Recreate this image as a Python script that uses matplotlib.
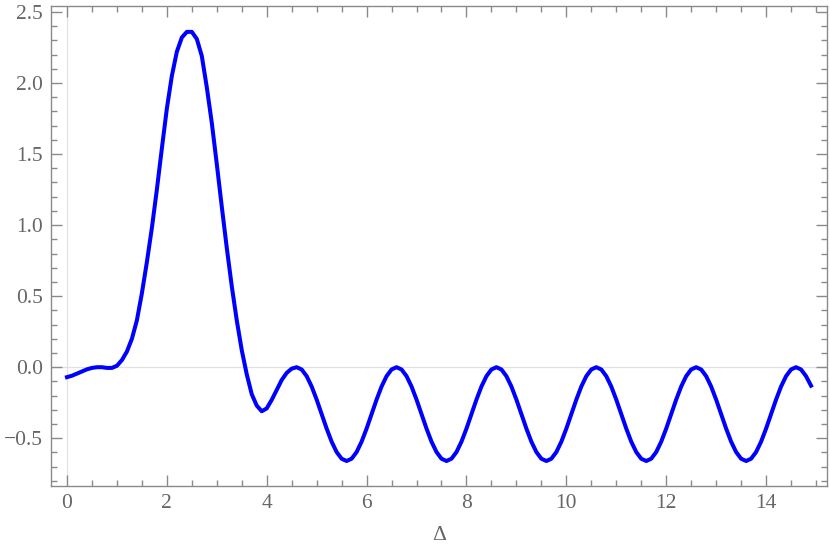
import numpy as np
import matplotlib
matplotlib.use("Agg")
import matplotlib.pyplot as plt
from matplotlib.ticker import MultipleLocator

# values, step 0.1 from 0.0 to 14.9
x_start = 0.0
x_step = 0.1

y_rise = [-0.07, -0.06, -0.045, -0.03, -0.015, -0.005, 0.0, 0.0, -0.005, -0.005,
          0.01, 0.05, 0.11, 0.20, 0.33, 0.52, 0.74, 0.98, 1.25, 1.54,
          1.82, 2.05, 2.22, 2.32, 2.36, 2.36, 2.31, 2.19, 1.97, 1.72,
          1.43, 1.13, 0.84, 0.57, 0.33, 0.12, -0.05, -0.19, -0.27, -0.31,
          -0.29, -0.23, -0.16, -0.09, -0.04, -0.01]
y_wave1 = [0.0, -0.016, -0.063, -0.136, -0.228, -0.33, -0.432, -0.524, -0.597, -0.644,
           -0.66, -0.644, -0.597, -0.524, -0.432, -0.33, -0.228, -0.136, -0.063, -0.016]
y_wave2 = [0.0, -0.016, -0.063, -0.136, -0.228, -0.33, -0.432, -0.524, -0.597, -0.644,
           -0.66, -0.644, -0.597, -0.524, -0.432, -0.33, -0.228, -0.136, -0.063, -0.016]
y_wave3 = [0.0, -0.016, -0.063, -0.136, -0.228, -0.33, -0.432, -0.524, -0.597, -0.644,
           -0.66, -0.644, -0.597, -0.524, -0.432, -0.33, -0.228, -0.136, -0.063, -0.016]
y_wave4 = [0.0, -0.016, -0.063, -0.136, -0.228, -0.33, -0.432, -0.524, -0.597, -0.644,
           -0.66, -0.644, -0.597, -0.524, -0.432, -0.33, -0.228, -0.136, -0.063, -0.016]
y_wave5 = [0.0, -0.016, -0.063, -0.136, -0.228, -0.33, -0.432, -0.524, -0.597, -0.644,
           -0.66, -0.644, -0.597, -0.524, -0.432, -0.33, -0.228, -0.136, -0.063, -0.016]
y_tail = [0.0, -0.016, -0.063, -0.13]

y = np.array(y_rise + y_wave1 + y_wave2 + y_wave3 + y_wave4 + y_wave5 + y_tail)
x = x_start + x_step * np.arange(len(y))

frame_col = "#8a8a8a"
text_col = "#666666"

plt.rcParams["font.family"] = ["Liberation Serif", "DejaVu Serif"]

fig = plt.figure(figsize=(8.3, 5.56), dpi=100)
ax = fig.add_axes([51 / 830, 70 / 556, 776 / 830, 480 / 556])

# thin axis lines through the origin, Mathematica style
ax.axhline(0, color="#e2e2e2", lw=0.9, zorder=1)
ax.axvline(0, color="#e2e2e2", lw=0.9, zorder=1)

ax.plot(x, y, color="#0000ff", lw=2.9, solid_joinstyle="round", zorder=3)

ax.set_xlim(-0.32, 15.22)
ax.set_ylim(-0.836, 2.542)

ax.xaxis.set_major_locator(MultipleLocator(2))
ax.xaxis.set_minor_locator(MultipleLocator(0.5))
ax.yaxis.set_major_locator(MultipleLocator(0.5))
ax.yaxis.set_minor_locator(MultipleLocator(0.1))
ax.yaxis.set_major_formatter(lambda v, p: f"{v:.1f}".replace("-", "\u2212"))

for s in ax.spines.values():
    s.set_color(frame_col)
    s.set_linewidth(1.0)

ax.tick_params(which="both", direction="in", top=True, right=True,
               color=frame_col, width=1.0, labelcolor=text_col, labelsize=15.5)
ax.tick_params(which="major", length=8, pad=6)
ax.tick_params(which="minor", length=4.5)

ax.set_xlabel("\u0394", fontsize=15.5, color=text_col, labelpad=9)

fig.savefig("out.png", dpi=100)
